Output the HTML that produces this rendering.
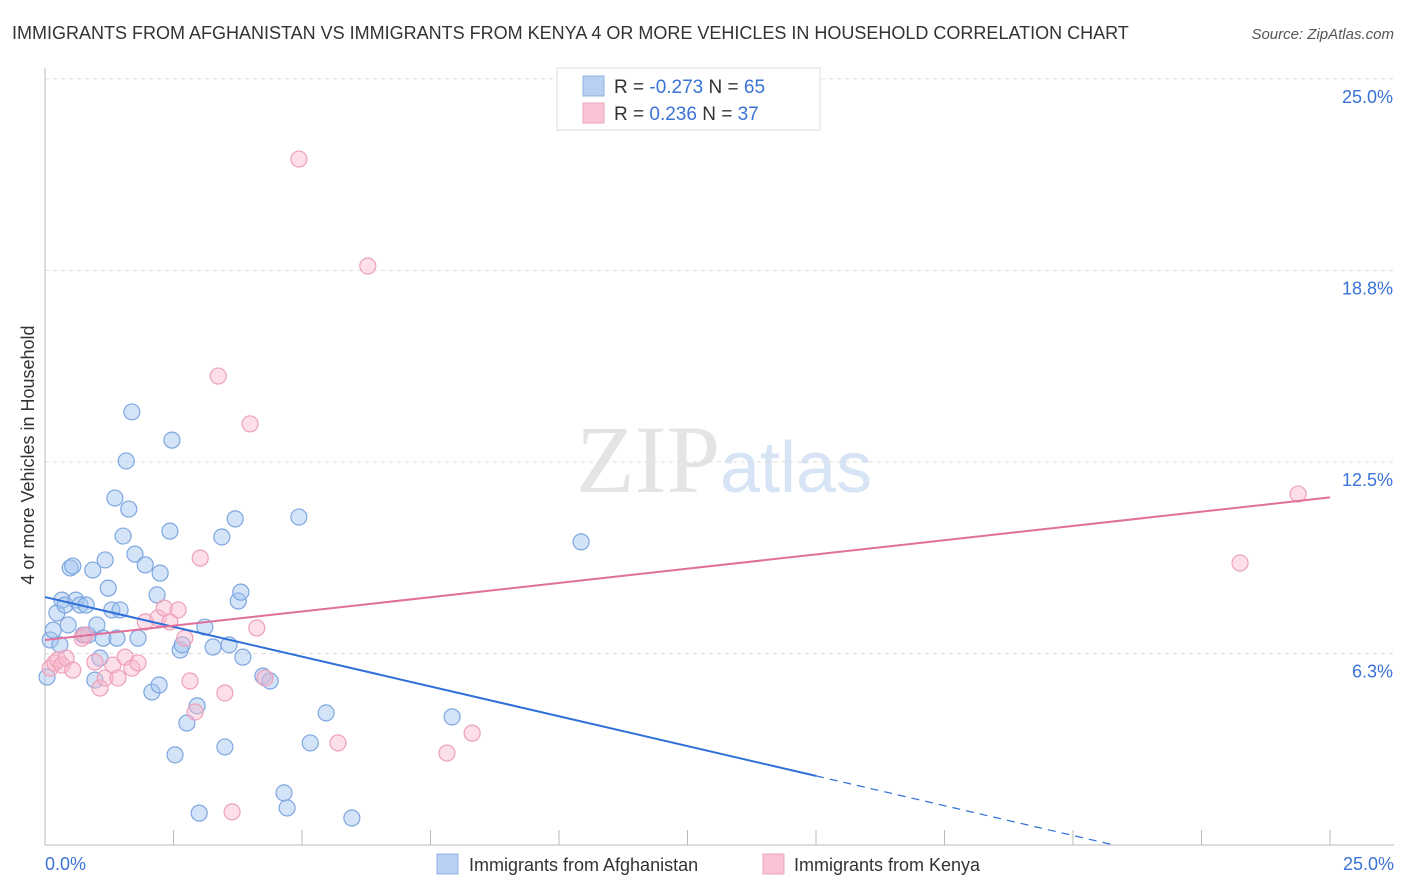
<!DOCTYPE html>
<html><head><meta charset="utf-8"><style>
body{margin:0;background:#fff;font-family:"Liberation Sans",sans-serif;}
svg{display:block}
</style></head><body>
<svg width="1406" height="892" viewBox="0 0 1406 892">
<text x="12" y="39" font-size="18" fill="#333">IMMIGRANTS FROM AFGHANISTAN VS IMMIGRANTS FROM KENYA 4 OR MORE VEHICLES IN HOUSEHOLD CORRELATION CHART</text>
<text x="1394" y="39" font-size="15" fill="#555" font-style="italic" text-anchor="end">Source: ZipAtlas.com</text>
<text x="720" y="492" font-size="96" fill="#e4e4e4" font-family="Liberation Serif,serif" text-anchor="end">ZIP</text>
<text x="720" y="492" font-size="72" fill="#d6e4f5">atlas</text>
<g id="grid"></g>
<g id="axes"></g>
<g id="pts"></g>
<g id="lines"></g>
<text transform="translate(34,455) rotate(-90)" font-size="18" fill="#333" text-anchor="middle">4 or more Vehicles in Household</text>
<text x="45" y="870" font-size="18" fill="#3a72d6">0.0%</text>
<text x="1394" y="870" font-size="18" fill="#3a72d6" text-anchor="end">25.0%</text>
<g>
<rect x="557" y="68" width="263" height="62" fill="#fff" stroke="#ddd"/>
<rect x="583" y="76" width="21" height="20" fill="#b8d0f2" stroke="#8fb0e0"/>
<rect x="583" y="103" width="21" height="20" fill="#f9c3d3" stroke="#eea5bb"/>
<text x="614" y="93" font-size="19" fill="#333">R = <tspan fill="#3a72d6">-0.273</tspan>   N = <tspan fill="#3a72d6">65</tspan></text>
<text x="614" y="120" font-size="19" fill="#333">R =   <tspan fill="#3a72d6">0.236</tspan>   N = <tspan fill="#3a72d6">37</tspan></text>
</g>
<g>
<rect x="437" y="854" width="21" height="20" fill="#b8d0f2" stroke="#8fb0e0"/>
<text x="469" y="871" font-size="18" fill="#333">Immigrants from Afghanistan</text>
<rect x="763" y="854" width="21" height="20" fill="#f9c3d3" stroke="#eea5bb"/>
<text x="794" y="871" font-size="18" fill="#333">Immigrants from Kenya</text>
</g>
</svg>
<script>
const yTicks=[6.25,12.5,18.75,25];
const yTickLabels=["6.3%","12.5%","18.8%","25.0%"];
const blueX=[0.04,0.10,0.16,0.23,0.29,0.33,0.39,0.45,0.49,0.54,0.60,0.68,0.74,0.80,0.84,0.93,0.97,1.01,1.07,1.13,1.17,1.23,1.30,1.36,1.40,1.46,1.52,1.58,1.63,1.69,1.75,1.81,1.95,2.08,2.18,2.22,2.24,2.43,2.47,2.53,2.63,2.67,2.76,2.96,3.00,3.11,3.27,3.44,3.50,3.58,3.70,3.76,3.81,3.85,4.24,4.38,4.65,4.71,4.94,5.16,5.47,5.97,7.92,10.43];
const blueY=[5.48,6.69,7.01,7.57,6.53,7.99,7.83,7.18,9.04,9.10,7.99,7.83,6.85,7.83,6.85,8.97,5.38,7.18,6.10,6.75,9.30,8.38,7.67,11.32,6.75,7.67,10.08,12.53,10.96,14.13,9.49,6.75,9.14,4.99,8.16,5.22,8.87,10.24,13.21,2.94,6.36,6.53,3.98,4.54,1.04,7.11,6.46,10.05,3.20,6.53,10.64,7.96,8.25,6.13,5.51,5.35,1.70,1.21,10.70,3.33,4.31,0.88,4.18,9.89];
const pinkX=[0.10,0.19,0.25,0.33,0.41,0.54,0.72,0.78,0.97,1.07,1.17,1.32,1.42,1.56,1.69,1.81,1.95,2.20,2.32,2.43,2.59,2.72,2.82,2.92,3.02,3.37,3.50,3.64,3.99,4.12,4.28,4.94,5.70,6.28,7.82,8.31,23.25,24.38];
const pinkY=[5.77,5.94,6.04,5.87,6.10,5.71,6.75,6.85,5.97,5.12,5.45,5.87,5.45,6.13,5.77,5.94,7.28,7.41,7.73,7.28,7.67,6.75,5.35,4.34,9.36,15.30,4.96,1.08,13.74,7.08,5.45,22.38,3.33,18.89,3.00,3.65,9.20,11.45];
const blueFit=[8.09,-0.389];
const pinkFit=[6.69,0.186];
const NS="http://www.w3.org/2000/svg";
const X=v=>45+v*51.4, Y=v=>845-v*30.65;
function mk(tag,attrs,parent){const e=document.createElementNS(NS,tag);for(const k in attrs)e.setAttribute(k,attrs[k]);document.getElementById(parent).appendChild(e);return e;}
yTicks.forEach((t,i)=>{
 const l=mk('line',{x1:45,x2:1394,y1:Y(t),y2:Y(t),stroke:'#ddd','stroke-dasharray':'4,4'},'grid');
 
 
 const tx=mk('text',{x:1393,y:Y(t)+24,'font-size':18,fill:'#3a72d6','text-anchor':'end'},'grid');
 tx.textContent=yTickLabels[i];
 
 
});
const ax=mk('line',{x1:45,x2:45,y1:68,y2:845,stroke:'#bbb'},'axes');


const bx=mk('line',{x1:45,x2:1394,y1:845,y2:845,stroke:'#bbb'},'axes');


for(let i=0;i<=10;i++){
 const t=mk('line',{x1:X(i*2.5),x2:X(i*2.5),y1:830,y2:845,stroke:'#bbb'},'axes');
 
 
}
blueX.forEach((x,i)=>{
 const c=mk('circle',{cx:X(x),cy:Y(blueY[i]),r:8,fill:'rgba(160,195,240,0.45)',stroke:'#7ea6e0','stroke-width':1.2},'pts');
 
 
});
pinkX.forEach((x,i)=>{
 const c=mk('circle',{cx:X(x),cy:Y(pinkY[i]),r:8,fill:'rgba(248,185,205,0.45)',stroke:'#eea0b8','stroke-width':1.2},'pts');
 
 
});
const bEnd=15, bZero=-blueFit[0]/blueFit[1];
const b1=mk('line',{x1:X(0),y1:Y(blueFit[0]),x2:X(bEnd),y2:Y(blueFit[0]+blueFit[1]*bEnd),stroke:'#2f6fd8','stroke-width':2},'lines');


const b2=mk('line',{x1:X(bEnd),y1:Y(blueFit[0]+blueFit[1]*bEnd),x2:X(bZero),y2:Y(0),stroke:'#2f6fd8','stroke-width':1.2,'stroke-dasharray':'8,6'},'lines');


const p1=mk('line',{x1:X(0),y1:Y(pinkFit[0]),x2:X(25),y2:Y(pinkFit[0]+pinkFit[1]*25),stroke:'#e0709a','stroke-width':2},'lines');


</script>
</body></html>
